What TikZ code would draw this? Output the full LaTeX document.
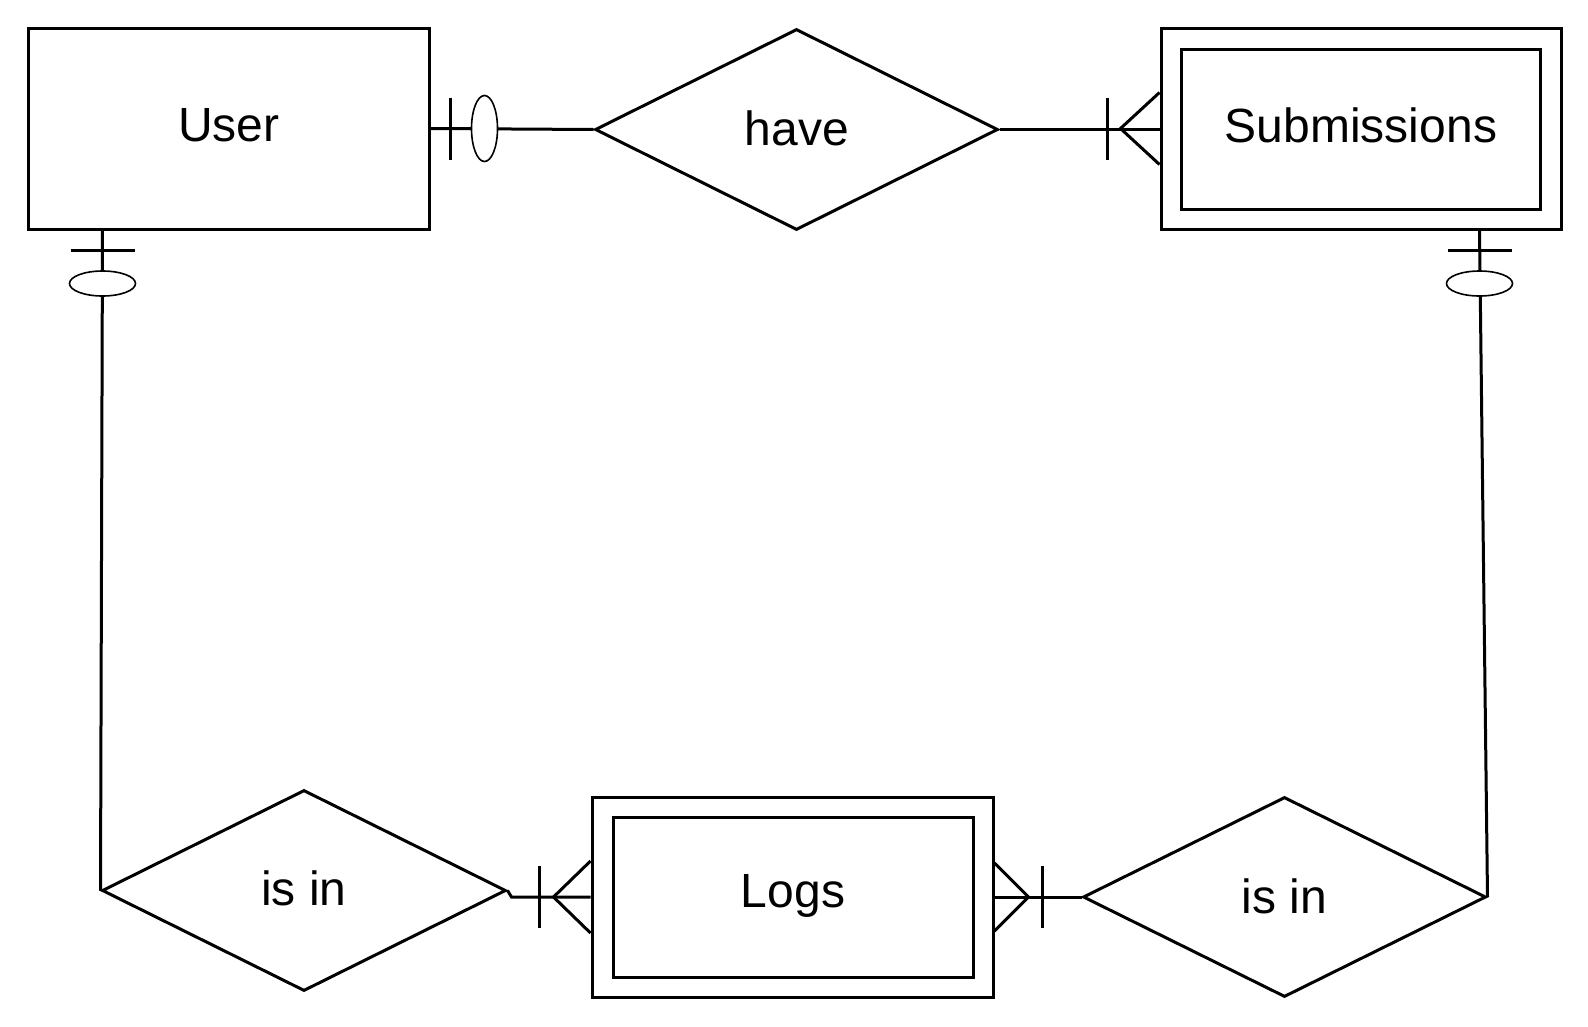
\documentclass[tikz,border=0pt]{standalone}
\usepackage{fontspec}
\setmainfont{Liberation Sans}
\usetikzlibrary{shapes.geometric,calc}
\begin{document}
\begin{tikzpicture}[x=1pt,y=-1pt,
  line width=3pt,
  label font/.style={font=\fontsize{48}{57}\selectfont},
  entity/.style={draw, rectangle, inner sep=0pt, label font},
  relation/.style={draw, diamond, inner sep=0pt, label font},
  link/.style={draw, line width=3pt},
  oval/.style={draw, ellipse, inner sep=0pt, line width=1.6pt, fill=white}
]
\useasboundingbox (0,0) rectangle (1588,1026);

% entities and relationships
\node[entity, minimum width=401pt, minimum height=201pt] (user) at (228.5,128.5) {};
\node[label font] (userlbl) at (229,125.5) {User};
\node[relation, minimum width=403pt, minimum height=201pt] (have) at (796.5,129.5) {};
\node[label font] (havelbl) at (797,128.5) {have};
\node[entity, minimum width=400pt, minimum height=201pt] (subs) at (1361,128.5) {};
\node[entity, minimum width=359pt, minimum height=160pt] (subsin) at (1360.5,129) {};
\node[label font] (subslbl) at (1361,125.5) {Submissions};
\node[relation, minimum width=404pt, minimum height=201pt] (isinL) at (304,890.5) {};
\node[label font] (isinLlbl) at (304,888.5) {is in};
\node[entity, minimum width=401pt, minimum height=200pt] (logs) at (792.5,897) {};
\node[entity, minimum width=360pt, minimum height=160pt] (logsin) at (793,897) {};
\node[label font] (logslbl) at (793,896) {Logs};
\node[relation, minimum width=403pt, minimum height=200pt] (isinR) at (1284.5,897) {};
\node[label font] (isinRlbl) at (1284.5,896) {is in};

% User -- have : zero or one
\draw[link] (user.east) -- (have.west);
\draw[link] ($(user.east)+(20,-31)$) -- ($(user.east)+(20,31)$);
\node[oval, minimum width=26pt, minimum height=66pt] (ovA) at ($(user.east)+(54,0)$) {};

% have -- Submissions : one or many
\draw[link] (have.east) -- (have.east -| subs.west);
\draw[link] ($(subs.west)+(-52,-31)$) -- ($(subs.west)+(-52,31)$);
\draw[link] ($(subs.west)+(0,-36)$) -- ($(subs.west)+(-39,0)$) -- ($(subs.west)+(0,36)$);

% User -- left "is in" : zero or one
\coordinate (uS) at ($(user.south west)+(76,0)$);
\draw[link] (uS) -- (isinL.west);
\draw[link] ($(uS)+(-32,20)$) -- ($(uS)+(32,20)$);
\node[oval, minimum width=66pt, minimum height=25pt] (ovB) at ($(uS)+(0,53)$) {};

% Submissions -- right "is in" : zero or one
\coordinate (sS) at ($(subs.south west)+(320,0)$);
\draw[link] (sS) -- (isinR.east);
\draw[link] ($(sS)+(-32,20)$) -- ($(sS)+(32,20)$);
\node[oval, minimum width=66pt, minimum height=25pt] (ovC) at ($(sS)+(0,53)$) {};

% left "is in" -- Logs : one or many
\draw[link] (isinL.east) -- ++(4,6.5) -- (logs.west);
\draw[link] ($(logs.west)+(-51,-31)$) -- ($(logs.west)+(-51,31)$);
\draw[link] ($(logs.west)+(0,-36)$) -- ($(logs.west)+(-37,0)$) -- ($(logs.west)+(0,36)$);

% Logs -- right "is in" : one or many
\draw[link] (logs.east) -- (isinR.west);
\draw[link] ($(logs.east)+(48,-31)$) -- ($(logs.east)+(48,31)$);
\draw[link] ($(logs.east)+(0,-34)$) -- ($(logs.east)+(34,0)$) -- ($(logs.east)+(0,34)$);
\end{tikzpicture}
\end{document}
